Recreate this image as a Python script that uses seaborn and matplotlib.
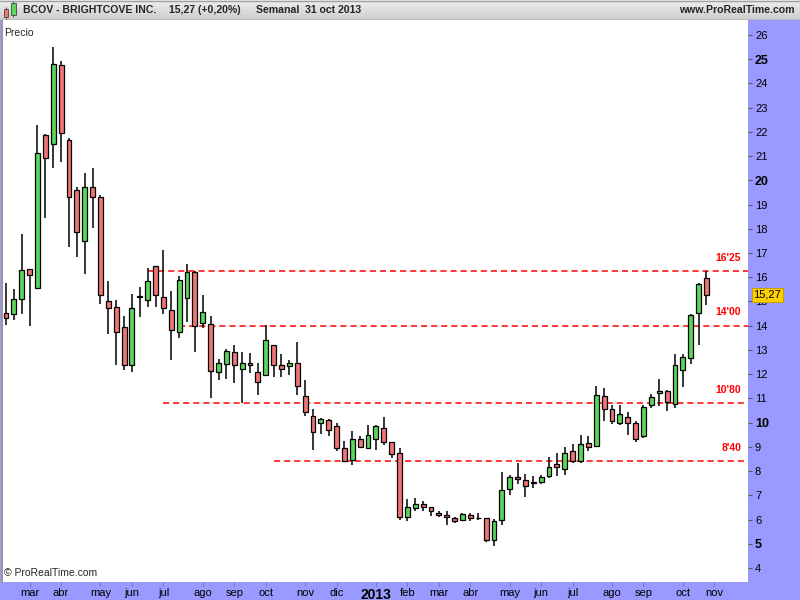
import numpy as np
import pandas as pd
import matplotlib
matplotlib.use('Agg')
import matplotlib.pyplot as plt
from matplotlib.patches import Rectangle
import seaborn as sns

# Weekly candles BCOV, week of 13 feb 2012 -> week of 28 oct 2013
opens = [14.51, 14.47, 15.09, 16.33, 15.55, 21.89, 21.51, 24.76, 21.65, 19.61,
         17.49, 19.74, 19.33, 15.02, 14.76, 13.93, 12.36, 15.19, 15.05, 16.46,
         15.17, 14.64, 13.72, 15.13, 16.22, 14.10, 14.06, 12.07, 12.40, 12.90,
         12.22, 12.48, 12.07, 11.98, 13.19, 12.36, 12.32, 12.48, 11.11, 10.29,
         10.00, 10.12, 9.87, 8.96, 8.46, 9.33, 8.96, 9.33, 9.79, 9.21,
         8.75, 6.10, 6.47, 6.64, 6.51, 6.27, 6.18, 6.06, 5.98, 6.18,
         6.06, 6.06, 5.15, 5.98, 7.26, 7.76, 7.63, 7.51, 7.56, 7.80,
         8.30, 8.09, 8.81, 8.42, 9.14, 9.05, 11.11, 10.58, 10.00, 10.24,
         10.00, 9.46, 10.74, 11.24, 11.32, 10.78, 12.19, 12.65, 14.51, 15.96]
highs = [15.75, 15.52, 17.80, 16.35, 22.27, 21.92, 25.52, 24.92, 21.76, 19.74,
         20.31, 20.53, 19.41, 15.85, 15.06, 14.40, 15.30, 15.60, 16.39, 16.48,
         17.12, 15.44, 16.06, 16.55, 16.26, 15.27, 14.40, 12.62, 13.04, 13.20,
         12.91, 12.87, 12.45, 14.03, 13.20, 12.85, 12.58, 13.32, 11.75, 10.58,
         10.21, 10.14, 9.99, 9.25, 9.66, 9.46, 9.92, 9.91, 10.24, 9.22,
         8.96, 6.86, 6.90, 6.78, 6.52, 6.35, 6.35, 6.10, 6.27, 6.27,
         6.27, 6.07, 6.02, 7.98, 7.84, 8.35, 7.88, 7.80, 7.84, 8.56,
         8.76, 9.01, 9.10, 9.47, 9.43, 11.50, 11.42, 10.74, 10.74, 10.45,
         10.08, 10.74, 11.20, 11.79, 11.33, 12.85, 12.85, 14.47, 15.75, 16.25]
lows = [14.03, 14.22, 14.49, 14.00, 15.52, 18.43, 20.52, 20.75, 17.25, 16.82,
        16.13, 18.03, 14.88, 13.67, 12.37, 12.19, 12.09, 14.37, 14.78, 14.78,
        14.47, 12.59, 13.50, 14.16, 12.92, 13.89, 11.01, 11.75, 11.80, 11.64,
        10.81, 12.05, 11.14, 11.93, 11.88, 11.88, 11.97, 11.14, 10.28, 8.86,
        9.52, 9.44, 8.82, 8.36, 8.24, 8.96, 8.96, 8.86, 9.08, 8.53,
        5.98, 5.93, 6.35, 6.35, 6.14, 6.10, 5.77, 5.85, 5.93, 5.93,
        5.98, 5.06, 4.90, 5.79, 7.01, 7.47, 6.93, 7.30, 7.47, 7.73,
        7.80, 7.84, 8.34, 8.34, 8.81, 8.98, 10.06, 9.94, 9.90, 9.48,
        9.19, 9.36, 10.62, 10.70, 10.48, 10.62, 11.47, 12.40, 13.21, 14.84]
closes = [14.30, 15.09, 16.29, 16.10, 21.14, 20.93, 24.80, 21.97, 19.33, 17.87,
          19.74, 19.33, 15.26, 14.74, 13.72, 12.36, 14.72, 15.19, 15.84, 15.28,
          14.72, 13.81, 15.88, 16.22, 13.97, 14.55, 12.15, 12.44, 12.94, 12.36,
          12.48, 12.36, 11.69, 13.39, 12.36, 12.23, 12.44, 11.53, 10.45, 9.62,
          10.16, 9.71, 8.96, 8.42, 9.33, 9.00, 9.50, 9.87, 9.21, 8.71,
          6.10, 6.51, 6.64, 6.51, 6.35, 6.18, 6.10, 5.93, 6.22, 6.06,
          6.06, 5.15, 5.93, 7.22, 7.76, 7.68, 7.39, 7.51, 7.76, 8.17,
          8.17, 8.76, 8.42, 9.10, 9.01, 11.16, 10.58, 10.08, 10.37, 10.00,
          9.33, 10.66, 11.07, 11.32, 10.85, 12.36, 12.69, 14.43, 15.71, 15.27]

levels = [16.25, 14.00, 10.80, 8.40]
level_labels = ["16'25", "14'00", "10'80", "8'40"]
level_start = [18, 22, 20, 34]

meses = ['ene', 'feb', 'mar', 'abr', 'may', 'jun', 'jul', 'ago', 'sep', 'oct', 'nov', 'dic']

weeks = pd.date_range('2012-02-13', periods=len(closes), freq='7D')
df = pd.DataFrame({'open': opens, 'high': highs, 'low': lows, 'close': closes}, index=weeks)
df['pos'] = np.arange(len(df))

sns.set_theme(style='white')
plt.rcParams['font.family'] = ['Liberation Sans', 'DejaVu Sans']

GREEN = '#5ad65a'
RED = '#ee7575'
LAV = '#9999ff'

fig = plt.figure(figsize=(8, 6), dpi=100)
fig.patch.set_facecolor(LAV)
ax = fig.add_axes([2 / 800, 18 / 600, 746 / 800, 562 / 600])
ax.set_facecolor('white')

# candles
colors = []
for o, c in zip(df['open'], df['close']):
    if abs(o - c) < 0.005:
        colors.append('black')
    elif c > o:
        colors.append(GREEN)
    else:
        colors.append(RED)
ax.vlines(df['pos'], df['low'], df['high'], color='black', lw=1.1, zorder=2)
bottoms = np.minimum(df['open'], df['close'])
heights = np.maximum(np.abs(df['close'] - df['open']), 0.02)
ax.bar(df['pos'], heights, bottom=bottoms, width=0.62, color=colors,
       edgecolor='black', linewidth=0.9, zorder=3)

# support / resistance lines
for lev, lab, st in zip(levels, level_labels, level_start):
    ax.hlines(lev, st, 100, colors='#ff0000', lw=1.1, linestyles=(0, (4, 2.6)), zorder=1)
    ax.annotate(lab, xy=(93.4, lev), xytext=(0, 6), textcoords='offset points',
                ha='right', va='bottom', color='#ff0000', fontsize=7.5, fontweight='bold')

ax.set_xlim(-0.51, 94.28)
ax.set_ylim(3.42, 26.62)

# y axis on the right
ax.yaxis.tick_right()
yt = list(range(4, 27))
ax.set_yticks(yt)
ax.set_yticklabels([str(v) for v in yt])
for lbl, v in zip(ax.get_yticklabels(), yt):
    if v in (5, 10, 20, 25):
        lbl.set_fontweight('bold')
        lbl.set_fontsize(9)
    else:
        lbl.set_fontsize(8)
ax.tick_params(axis='y', direction='out', length=3, width=0.8, color='#555555', pad=2,
               labelcolor='black', right=True, left=False)

# month ticks on x (axis runs a couple of weeks past the last candle)
axis_weeks = pd.date_range(weeks[0], periods=len(weeks) + 2, freq='7D')
tick_pos, tick_lab = [], []
prev = None
for p, d in enumerate(axis_weeks):
    if prev is not None and d.month != prev:
        tick_pos.append(p)
        tick_lab.append(str(d.year) if d.month == 1 else meses[d.month - 1])
    prev = d.month
ax.set_xticks(tick_pos)
ax.set_xticklabels(tick_lab)
for lbl in ax.get_xticklabels():
    if lbl.get_text().isdigit():
        lbl.set_fontweight('bold')
        lbl.set_fontsize(10)
    else:
        lbl.set_fontsize(8)
ax.tick_params(axis='x', direction='out', length=3, width=0.8, color='#7777bb', pad=1,
               labelcolor='black', bottom=True)

for s in ['top', 'right', 'bottom']:
    ax.spines[s].set_visible(False)
ax.spines['left'].set_color('#999999')
ax.spines['left'].set_linewidth(1.5)
ax.grid(False)

# last price tag
ax.annotate('15,27', xy=(1.0, 15.27), xycoords=('axes fraction', 'data'),
            xytext=(4, 0), textcoords='offset points', ha='left', va='center',
            fontsize=8, color='black', zorder=10,
            bbox=dict(boxstyle='square,pad=0.15', fc='#ffd000', ec='#c8a000', lw=0.8))

ax.text(0.003, 0.985, 'Precio', transform=ax.transAxes, ha='left', va='top', fontsize=7.5)
ax.text(0.003, 0.008, '\u00a9 ProRealTime.com', transform=ax.transAxes, ha='left',
        va='bottom', fontsize=7.5)

# header bar
hax = fig.add_axes([0, 580 / 600, 1, 20 / 600])
grad = np.linspace(0.93, 0.80, 20).reshape(-1, 1)
hax.imshow(grad, aspect='auto', cmap='gray', vmin=0, vmax=1, extent=[0, 800, 0, 20])
hax.set_xlim(0, 800)
hax.set_ylim(0, 20)
hax.axis('off')
hax.axhline(0.5, color='#888888', lw=1)
hax.axhline(19.5, color='#a0a0a0', lw=1)
hax.vlines(5.5, 1.5, 13, color='#444444', lw=0.6, zorder=2)
hax.add_patch(Rectangle((3.5, 3), 4.5, 8, fc=RED, ec='#444444', lw=0.6, zorder=3))
hax.vlines(13, 3, 19, color='#444444', lw=0.6, zorder=2)
hax.add_patch(Rectangle((11, 5), 4.5, 12, fc=GREEN, ec='#444444', lw=0.6, zorder=3))
hax.text(23, 10, 'BCOV - BRIGHTCOVE INC.', ha='left', va='center', fontsize=7.6, fontweight='bold')
hax.text(169, 10, '15,27 (+0,20%)', ha='left', va='center', fontsize=7.6, fontweight='bold')
hax.text(256, 10, 'Semanal  31 oct 2013', ha='left', va='center', fontsize=7.6, fontweight='bold')
hax.text(795, 10, 'www.ProRealTime.com', ha='right', va='center', fontsize=7.6, fontweight='bold')

fig.savefig('out.png', dpi=100, facecolor=fig.get_facecolor())
